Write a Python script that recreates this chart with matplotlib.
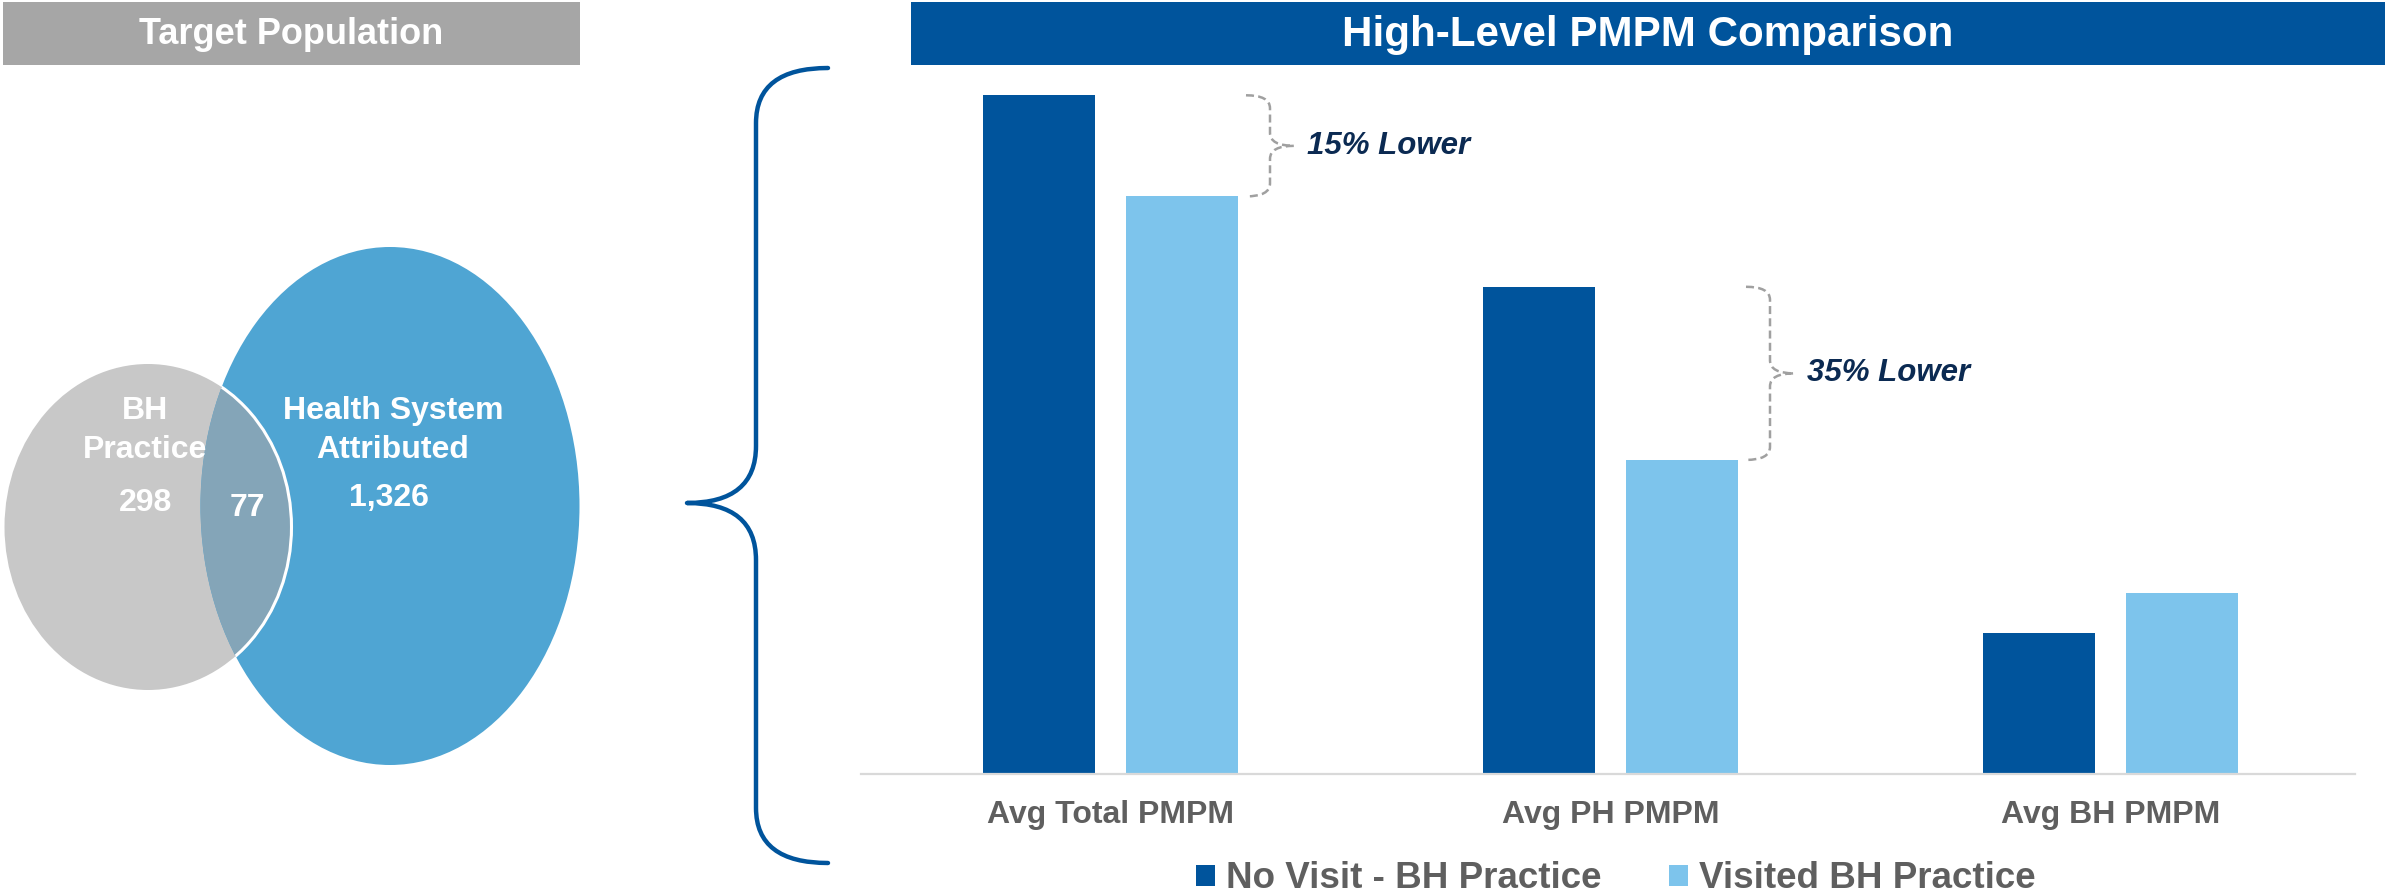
import matplotlib
matplotlib.use('Agg')
import matplotlib.pyplot as plt
import numpy as np
from matplotlib.patches import Ellipse, Rectangle, PathPatch
from matplotlib.path import Path

plt.rcParams['font.family'] = ['Liberation Sans', 'DejaVu Sans']

# chart data (PMPM values)
categories = ['Avg Total PMPM', 'Avg PH PMPM', 'Avg BH PMPM']
no_visit = [886, 636, 184]
visited = [754, 410, 236]
series_names = ['No Visit - BH Practice', 'Visited BH Practice']
diff_labels = ['15% Lower', '35% Lower']

venn_names = [['BH', 'Practice'], ['Health System', 'Attributed']]
venn_counts = [298, 77, 1326]

DARK = '#00549C'
LIGHT = '#7DC4EC'
GRAYTXT = '#5F5F5F'
NAVY = '#0B2A52'

W, H = 2403, 894
fig = plt.figure(figsize=(W / 100, H / 100), dpi=100)

# overlay in pixel coordinates for the decorations
ov = fig.add_axes([0, 0, 1, 1])
ov.set_xlim(0, W)
ov.set_ylim(H, 0)
ov.axis('off')

# header bars
ov.add_patch(Rectangle((3, 2), 577, 63, color='#A6A6A6', lw=0))
ov.text(291, 35, 'Target Population', color='white', fontsize=26,
        fontweight='bold', ha='center', va='center')
ov.add_patch(Rectangle((911, 2), 1474, 63, color=DARK, lw=0))
ov.text(1648, 35, 'High-Level PMPM Comparison', color='white', fontsize=30.3,
        fontweight='bold', ha='center', va='center')

# venn
gray = Ellipse((148, 527), 287, 326, fc='#C8C8C8', ec='none')
blue = Ellipse((390, 506), 379, 518, fc='#4FA5D3', ec='none')
ov.add_patch(gray)
ov.add_patch(blue)
over = Ellipse((148, 527), 287, 326, fc='#84A5B8', ec='none')
ov.add_patch(over)
over.set_clip_path(blue)
edge = Ellipse((148, 527), 287, 326, fill=False, ec='white', lw=2.2)
ov.add_patch(edge)
edge.set_clip_path(blue)

vkw = dict(color='white', fontsize=23, fontweight='bold', ha='center', va='center')
for i, line in enumerate(venn_names[0]):
    ov.text(145, 411 + 39 * i, line, **vkw)
for i, line in enumerate(venn_names[1]):
    ov.text(393, 411 + 39 * i, line, **vkw)
ov.text(146, 503, f'{venn_counts[0]:,}', **vkw)
ov.text(247, 508, f'{venn_counts[1]:,}', **vkw)
ov.text(389, 498, f'{venn_counts[2]:,}', **vkw)

# big brace
bv = [(828, 68), (756, 68), (756, 123), (756, 446), (756, 503), (687, 503),
      (756, 503), (756, 560), (756, 808), (756, 863), (828, 863)]
bc = [Path.MOVETO, Path.CURVE3, Path.CURVE3, Path.LINETO, Path.CURVE3, Path.CURVE3,
      Path.CURVE3, Path.CURVE3, Path.LINETO, Path.CURVE3, Path.CURVE3]
ov.add_patch(PathPatch(Path(bv, bc), fill=False, ec=DARK, lw=3.2,
                       capstyle='round', joinstyle='round'))

# bar chart
ax = fig.add_axes([861 / W, 1 - 774 / H, (2355 - 861) / W, (774 - 70) / H])
ax.set_facecolor('none')
x = np.arange(len(categories))
bw, off = 0.224, 0.143
ax.bar(x - off, no_visit, bw, color=DARK, label=series_names[0])
ax.bar(x + off, visited, bw, color=LIGHT, label=series_names[1])
ax.set_xlim(-0.499, 2.489)
ax.set_ylim(0, 919)
for s in ['top', 'left', 'right']:
    ax.spines[s].set_visible(False)
ax.spines['bottom'].set_color('#D9D9D9')
ax.spines['bottom'].set_linewidth(1.6)
ax.set_yticks([])
ax.set_xticks(x)
ax.set_xticklabels(categories, fontsize=23, fontweight='bold', color=GRAYTXT)
ax.tick_params(axis='x', length=0, pad=19)


def brace(ax, x0, y_top, y_bot, w, r):
    xm, xt, ym = x0 + w / 2, x0 + w, (y_top + y_bot) / 2
    verts = [(x0, y_top), (xm, y_top), (xm, y_top - r), (xm, ym + r), (xm, ym), (xt, ym),
             (xm, ym), (xm, ym - r), (xm, y_bot + r), (xm, y_bot), (x0, y_bot)]
    codes = [Path.MOVETO, Path.CURVE3, Path.CURVE3, Path.LINETO, Path.CURVE3, Path.CURVE3,
             Path.CURVE3, Path.CURVE3, Path.LINETO, Path.CURVE3, Path.CURVE3]
    ax.add_patch(PathPatch(Path(verts, codes), fill=False, ec='#A0A0A0', lw=1.8,
                           linestyle=(0, (3.2, 1.7)), clip_on=False))
    return xt, ym


for i, lab in enumerate(diff_labels):
    x0 = x[i] + off + bw / 2 + 0.016
    xt, ym = brace(ax, x0, no_visit[i], visited[i], 0.096, 17)
    ax.text(xt + 0.026, ym, lab, color=NAVY, fontsize=22.5, fontweight='bold',
            fontstyle='italic', ha='left', va='center')

fig.legend(loc='center', bbox_to_anchor=(1616 / W, 1 - 879 / H), ncol=2, frameon=False,
           prop={'size': 26.5, 'weight': 'bold'}, labelcolor=GRAYTXT,
           handlelength=0.5, handleheight=0.5, handletextpad=0.3,
           columnspacing=1.85, borderpad=0)

fig.savefig('out.png', dpi=100)
